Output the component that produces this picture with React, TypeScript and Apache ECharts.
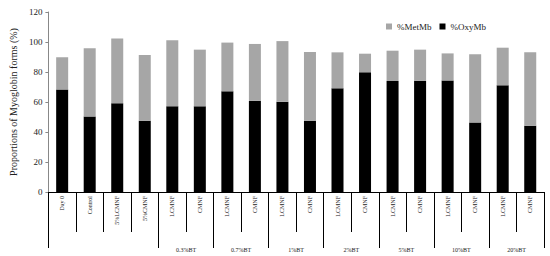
import React, { useEffect, useRef } from "react";
import * as echarts from "echarts";

const categories = [
  "Day 0", "Control", "5%LCMNF", "5%CMNF",
  "LCMNF", "CMNF", "LCMNF", "CMNF", "LCMNF", "CMNF", "LCMNF", "CMNF",
  "LCMNF", "CMNF", "LCMNF", "CMNF", "LCMNF", "CMNF",
];
const groupLabels = ["0.3%BT", "0.7%BT", "1%BT", "2%BT", "5%BT", "10%BT", "20%BT"];
const oxyMb = [68.4, 50.4, 59.1, 47.5, 57.1, 57.1, 67.1, 60.9, 60.2, 47.5, 69.1, 79.8, 74.0, 74.2, 74.4, 46.4, 71.1, 44.2];
const totalMb = [89.8, 95.8, 102.4, 91.3, 101.1, 94.9, 99.6, 98.7, 100.6, 93.3, 93.1, 92.2, 94.2, 94.9, 92.4, 91.8, 96.2, 93.1];
const metMb = totalMb.map((t, i) => Math.round((t - oxyMb[i]) * 10) / 10);
const yTicks = { min: 0, max: 120, interval: 20 };

// second-level axis: 19 boundary positions (0..18)
const groupAxisData: string[] = Array.from({ length: 19 }, () => "");
groupLabels.forEach((g, i) => {
  groupAxisData[5 + i * 2] = g;
});
const longTickPositions = [0, 4, 6, 8, 10, 12, 14, 16, 18];

const FONT = "'Liberation Serif', 'DejaVu Serif', serif";

export default function App() {
  const ref = useRef<HTMLDivElement>(null);
  useEffect(() => {
    if (!ref.current) return;
    const chart = echarts.init(ref.current, undefined, { renderer: "svg" });
    chart.setOption({
      animation: false,
      textStyle: { fontFamily: FONT },
      legend: {
        data: ["%MetMb", "%OxyMb"],
        left: 381,
        top: 17,
        itemWidth: 6,
        itemHeight: 6,
        itemGap: 8,
        icon: "rect",
        textStyle: { fontFamily: FONT, fontSize: 9, color: "#222" },
      },
      grid: { left: 42, right: 6, top: 12, bottom: 64 },
      xAxis: [
        {
          type: "category",
          data: categories,
          axisLine: { lineStyle: { color: "#000", width: 1 } },
          axisTick: { show: true, interval: 0, length: 40, lineStyle: { color: "#000" } },
          axisLabel: {
            interval: 0,
            rotate: 90,
            margin: 4,
            fontSize: 6,
            color: "#222",
            fontFamily: FONT,
          },
        },
        {
          type: "category",
          data: groupAxisData,
          boundaryGap: false,
          position: "bottom",
          axisLine: { show: false },
          axisTick: {
            show: true,
            length: 56,
            interval: (idx: number) => longTickPositions.includes(idx),
            lineStyle: { color: "#000" },
          },
          axisLabel: {
            interval: 0,
            margin: 55,
            fontSize: 6,
            color: "#222",
            fontFamily: FONT,
          },
        },
      ],
      yAxis: {
        type: "value",
        min: yTicks.min,
        max: yTicks.max,
        interval: yTicks.interval,
        name: "Proportions of Myoglobin forms (%)",
        nameLocation: "middle",
        nameGap: 27,
        nameTextStyle: { fontFamily: FONT, fontSize: 10, color: "#222" },
        axisLine: { show: true, lineStyle: { color: "#888", width: 1 } },
        axisTick: { show: true, length: 3, lineStyle: { color: "#888" } },
        axisLabel: { fontSize: 9, color: "#222", margin: 6, fontFamily: FONT },
        splitLine: { show: false },
      },
      series: [
        {
          name: "%OxyMb",
          type: "bar",
          stack: "mb",
          data: oxyMb,
          barWidth: 12,
          itemStyle: { color: "#000" },
        },
        {
          name: "%MetMb",
          type: "bar",
          stack: "mb",
          data: metMb,
          barWidth: 12,
          itemStyle: { color: "#a6a6a6" },
        },
      ],
    });
    return () => chart.dispose();
  }, []);
  return (
    <div
      ref={ref}
      style={{ position: "fixed", left: 0, top: 0, width: 550, height: 256, background: "#fff" }}
    />
  );
}
